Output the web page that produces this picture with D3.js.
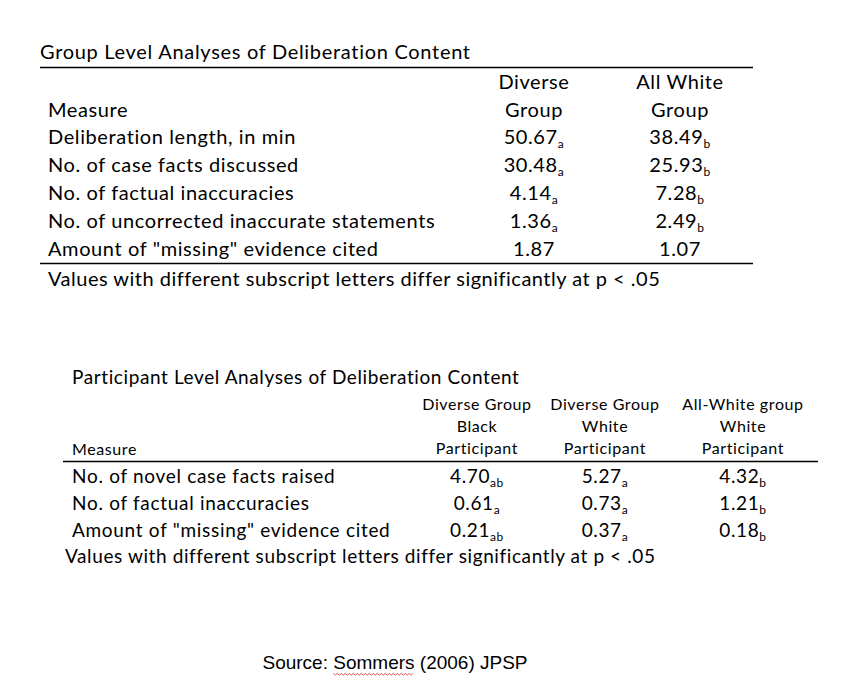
<!DOCTYPE html>
<html><head><meta charset="utf-8">
<script src="https://cdn.jsdelivr.net/npm/d3@7"></script>
<style>body{margin:0;background:#fff}svg{display:block}text{font-variant-ligatures:none}</style>
</head><body>
<svg id="c" width="854" height="698"></svg>
<script>
const title1 = "Group Level Analyses of Deliberation Content";
const headers1 = [["Diverse","Group"],["All White","Group"]];
const measures1 = ["Deliberation length, in min","No. of case facts discussed","No. of factual inaccuracies","No. of uncorrected inaccurate statements","Amount of \"missing\" evidence cited"];
const diverse1 = ["50.67","30.48","4.14","1.36","1.87"];
const diverseSub1 = ["a","a","a","a",""];
const allWhite1 = ["38.49","25.93","7.28","2.49","1.07"];
const allWhiteSub1 = ["b","b","b","b",""];
const note = "Values with different subscript letters differ significantly at p < .05";

const title2 = "Participant Level Analyses of Deliberation Content";
const headers2 = [["Diverse Group","Black","Participant"],["Diverse Group","White","Participant"],["All-White group","White","Participant"]];
const measures2 = ["No. of novel case facts raised","No. of factual inaccuracies","Amount of \"missing\" evidence cited"];
const dBlack2 = ["4.70","0.61","0.21"], dBlackSub2 = ["ab","a","ab"];
const dWhite2 = ["5.27","0.73","0.37"], dWhiteSub2 = ["a","a","a"];
const awWhite2 = ["4.32","1.21","0.18"], awWhiteSub2 = ["b","b","b"];
const source = ["Source: ","Sommers"," (2006) JPSP"];

const svg = d3.select("#c");
const F = "Lato, 'Open Sans', sans-serif";
const LS = 0.6;

function txt(g, x, y, s, size, anchor, ls){
  return g.append("text").attr("x",x).attr("y",y).attr("text-anchor",anchor||"start")
    .attr("font-family",F).attr("font-size",size).attr("letter-spacing",ls==null?LS:ls).attr("fill","#000").text(s);
}
function valueText(g, x, y, v, s, size, subSize){
  const t = g.append("text").attr("x",x).attr("y",y).attr("text-anchor","middle")
    .attr("font-family",F).attr("font-size",size).attr("letter-spacing",LS).attr("fill","#000");
  t.append("tspan").text(v);
  if(s) t.append("tspan").attr("font-size",subSize).attr("dy",4).text(s);
}

// ---- Table 1
const g1 = svg.append("g");
txt(g1,40,59,title1,20,"start",0.7);
const y1 = d3.scaleBand().domain(d3.range(measures1.length)).range([123,263]);
const x1 = d3.scalePoint().domain([0,1]).range([534,680]);
g1.append("line").attr("x1",40).attr("x2",753).attr("y1",67.5).attr("y2",67.5).attr("stroke","#000").attr("stroke-width",1.3);
g1.append("line").attr("x1",40).attr("x2",753).attr("y1",263.5).attr("y2",263.5).attr("stroke","#000").attr("stroke-width",1.3);
headers1.forEach((h,i)=>h.forEach((l,j)=>txt(g1,x1(i),89+j*28,l,20,"middle")));
txt(g1,48,117,"Measure",20);
measures1.forEach((m,i)=>{
  const yy = y1(i)+y1.bandwidth()/2+7;
  txt(g1,48,yy,m,20);
  valueText(g1,x1(0),yy,diverse1[i],diverseSub1[i],20,12);
  valueText(g1,x1(1),yy,allWhite1[i],allWhiteSub1[i],20,12);
});
txt(g1,48,286,note,20,"start",0.5);

// ---- Table 2
const g2 = svg.append("g");
txt(g2,72,384,title2,19);
const x2 = d3.scalePoint().domain([0,1,2]).range([477,743]);
headers2.forEach((h,i)=>h.forEach((l,j)=>txt(g2,i===1?605:x2(i),410+j*22,l,16,"middle")));
txt(g2,72,455,"Measure",16);
g2.append("line").attr("x1",63).attr("x2",818).attr("y1",461.5).attr("y2",461.5).attr("stroke","#000").attr("stroke-width",1.3);
const y2 = d3.scaleBand().domain(d3.range(measures2.length)).range([462,543]);
measures2.forEach((m,i)=>{
  const yy = y2(i)+y2.bandwidth()/2+7;
  txt(g2,72,yy,m,19,"start",0.7);
  valueText(g2,x2(0),yy,dBlack2[i],dBlackSub2[i],19,12);
  valueText(g2,605,yy,dWhite2[i],dWhiteSub2[i],19,12);
  valueText(g2,x2(2),yy,awWhite2[i],awWhiteSub2[i],19,12);
});
txt(g2,65,563,note,19);

// ---- Source
const SF = "'Liberation Sans', Arial, sans-serif";
const st = svg.append("text").attr("x",395).attr("y",669).attr("text-anchor","middle")
  .attr("font-family",SF).attr("font-size",19).attr("fill","#000");
source.forEach(s=>st.append("tspan").text(s));
// spellcheck wavy underline under "Sommers"
const node = st.node();
const i0 = source[0].length, i1 = i0 + source[1].length - 1;
const sx = node.getStartPositionOfChar(i0).x, ex = node.getEndPositionOfChar(i1).x, wy = 674;
const pts = d3.range(sx, ex, 2).map((x,i)=>[x, wy + (i%2?1.2:-0.6)]);
svg.append("path").attr("d",d3.line()(pts)).attr("fill","none").attr("stroke","#e03030").attr("stroke-width",0.8);
</script>
</body></html>
